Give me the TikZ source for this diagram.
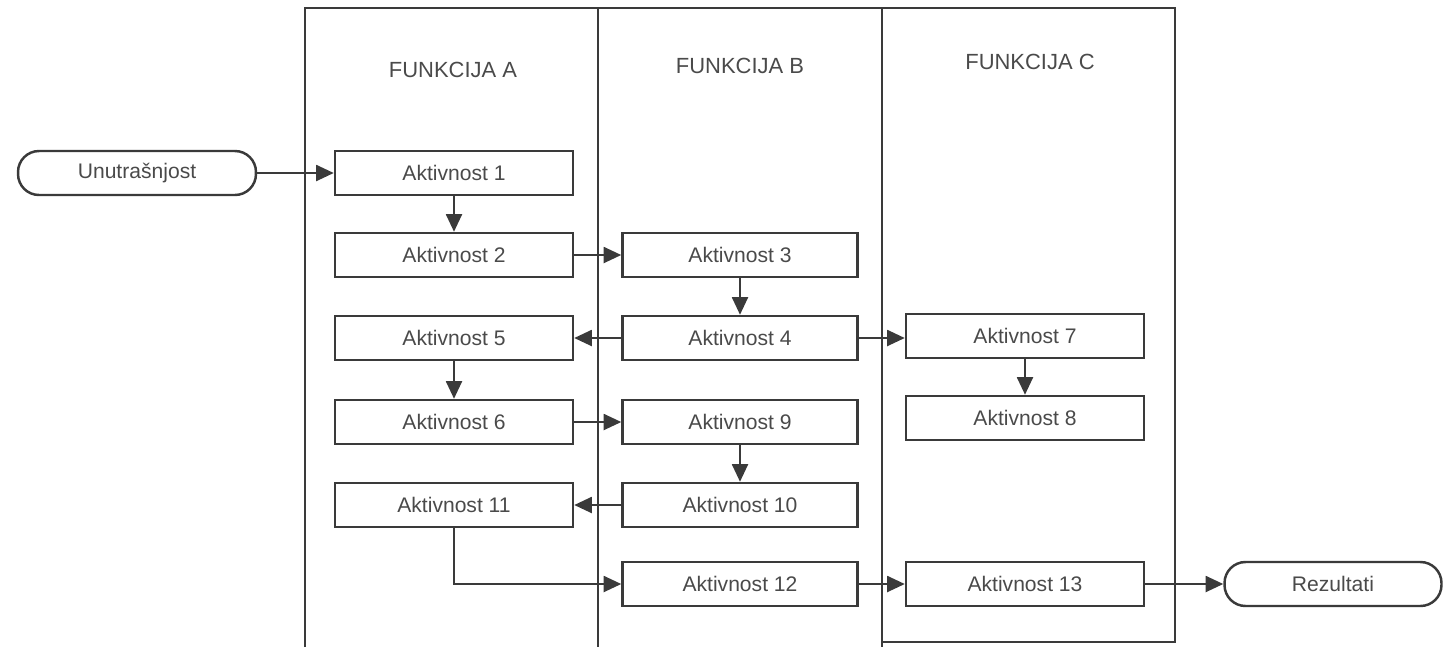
\documentclass[tikz,border=0pt]{standalone}
\usepackage{fontspec}
\setmainfont{Liberation Sans}
\usetikzlibrary{arrows.meta}
\definecolor{ink}{HTML}{3A3A3A}
\definecolor{txt}{HTML}{4A4A4A}

\begin{document}
\begin{tikzpicture}[x=0.02cm, y=-0.02cm,
    akt/.style={draw=ink, line width=1.4pt, minimum width=4.76cm, minimum height=0.88cm,
        inner sep=0pt, text=txt, font=\fontsize{12}{14}\selectfont},
    kraj/.style={akt, rounded corners=0.42cm},
    naslov/.style={text=txt, font=\fontsize{12.5}{15}\selectfont},
    traka/.style={draw=ink, line width=1.4pt},
    veza/.style={draw=ink, line width=1.4pt, arrows={-Triangle[length=10pt,width=9pt]}}]
        \useasboundingbox (0,0) rectangle (1444,647);
        % lanes
        \draw[traka] (305,647) -- (305,8) -- (1175,8) -- (1175,642) -- (882,642);
        \draw[traka] (598,8) -- (598,647);
        \draw[traka] (882,8) -- (882,647);
        \node[naslov] (fa) at (453,70) {FUNKCIJA A};
        \node[naslov] (fb) at (740,66) {FUNKCIJA B};
        \node[naslov] (fc) at (1030,62) {FUNKCIJA C};
        % start, end
        \node[kraj] (ulaz) at (137,173) {Unutrašnjost};
        \node[kraj, minimum width=4.34cm] (izlaz) at (1333,584) {Rezultati};
        % activities
        \node[akt] (a1) at (454,173) {Aktivnost 1};
        \node[akt] (a2) at (454,255) {Aktivnost 2};
        \node[akt] (a5) at (454,338) {Aktivnost 5};
        \node[akt] (a6) at (454,422) {Aktivnost 6};
        \node[akt] (a11) at (454,505) {Aktivnost 11};
        \node[akt, minimum width=4.7cm] (a3) at (740,255) {Aktivnost 3};
        \node[akt, minimum width=4.7cm] (a4) at (740,338) {Aktivnost 4};
        \node[akt, minimum width=4.7cm] (a9) at (740,422) {Aktivnost 9};
        \node[akt, minimum width=4.7cm] (a10) at (740,505) {Aktivnost 10};
        \node[akt, minimum width=4.7cm] (a12) at (740,584) {Aktivnost 12};
        \node[akt] (a7) at (1025,336) {Aktivnost 7};
        \node[akt] (a8) at (1025,418) {Aktivnost 8};
        \node[akt] (a13) at (1025,584) {Aktivnost 13};
        % flow
        \draw[veza] (ulaz) -- (a1);
        \draw[veza] (a1) -- (a2);
        \draw[veza] (a2) -- (a3);
        \draw[veza] (a3) -- (a4);
        \draw[veza] (a4) -- (a5);
        \draw[veza] (a4.east) -- (a7.west |- a4.east);
        \draw[veza] (a7) -- (a8);
        \draw[veza] (a5) -- (a6);
        \draw[veza] (a6) -- (a9);
        \draw[veza] (a9) -- (a10);
        \draw[veza] (a10) -- (a11);
        \draw[veza] (a11.south) |- (a12.west);
        \draw[veza] (a12) -- (a13);
        \draw[veza] (a13) -- (izlaz);
\end{tikzpicture}
\end{document}
